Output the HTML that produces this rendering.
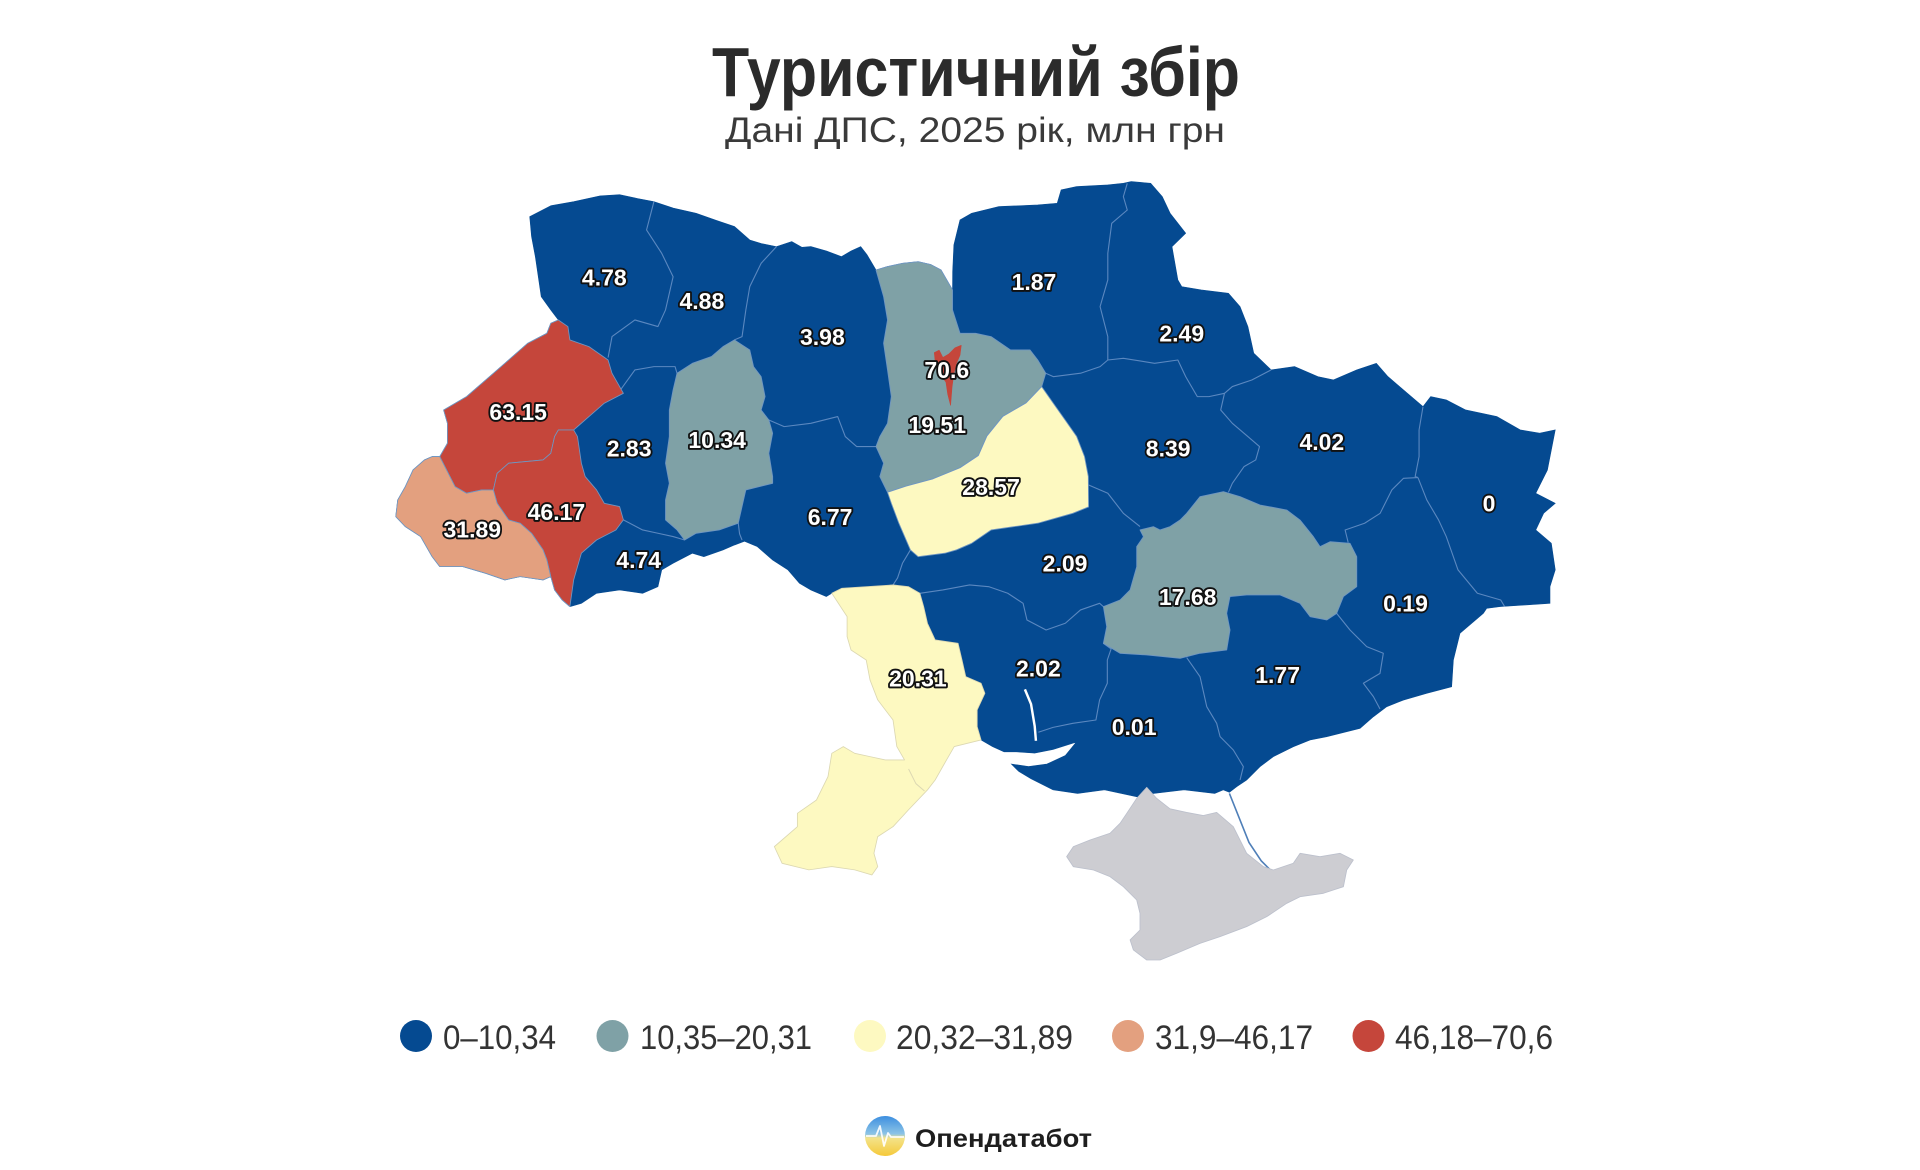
<!DOCTYPE html>
<html><head><meta charset="utf-8"><style>
html,body{margin:0;padding:0;background:#fff;}
svg{display:block;}
</style></head><body>
<svg xmlns="http://www.w3.org/2000/svg" width="1920" height="1170" viewBox="0 0 1920 1170">
<rect width="1920" height="1170" fill="#ffffff"/>
<text x="712" y="96" font-family="Liberation Sans, Arial, sans-serif" font-weight="bold" font-size="70" fill="#2b2b2b" textLength="528" lengthAdjust="spacingAndGlyphs">Туристичний збір</text>
<text x="725" y="142" font-family="Liberation Sans, Arial, sans-serif" font-size="35" fill="#3a3a3a" textLength="500" lengthAdjust="spacingAndGlyphs">Дані ДПС, 2025 рік, млн грн</text>

<g transform="scale(1.2245)">
<!-- blue base -->
<path fill="#054a91" stroke="#054a91" stroke-width="0.5" d="M432.6,176.9 L450,168 468.5,164.7 490,160 506,159 520,162 534,164.7 550,170 568.5,174.2 585,180 599.8,185 612.3,196 622,199 634.1,201.4 646.6,197.3 655,202 662.2,201.4 675,205 687.2,209.6 695,205 702.9,201.4 708,208 715.4,220.5 724.8,217.7 737.2,215 749.8,213.7 760,216 768.5,220.5 777.9,236.8 778,222 779,200 784,179.6 793.5,174.2 815.8,168.7 847.5,167.4 863.4,166 866.6,155.1 879.3,152.4 904.7,151 917.4,149.7 923.8,148.3 939.7,149.7 949.2,160.6 955.6,174.2 968.3,190.5 957.1,201.4 961.9,228.6 965.1,234.1 981,236.8 1003.2,239.5 1012.7,250.4 1019.1,266.7 1023.9,288.5 1038.1,302.1 1057.2,299.4 1076.3,307.6 1089,310.3 1108,302.1 1124,296.7 1133.5,307.6 1149.4,321.2 1162.1,332.1 1168.4,323.9 1181.1,326.6 1197,334.8 1222.4,340.2 1241.5,351.1 1257.4,353.8 1270.1,351.1 1266.9,367.4 1263.7,383.8 1254.2,402.8 1270.1,411 1260.6,419.2 1254.2,432.8 1266.9,443.7 1270.1,465.4 1265.8,479.1 1265.8,492.7 1225,495.4 1214.1,496.8 1211.4,500.9 1192.3,517.2 1186.9,539 1185.5,560.8 1165.1,566.2 1146.1,571.7 1132.5,577.1 1121.6,585.3 1110.7,594.8 1083.5,601.6 1069.9,604.3 1056.2,609.8 1039.9,617.9 1029,626.1 1018.1,637 1010,642.4 1004,647 999,645 992,648 967,645 942,648 930,651 902,645 880,648 860,645 842,636 832,630 826,624 840,626 855,624 870,617 879,606 860,612 845,615 830,614 820,614 810.6,609.7 801.2,604.3 798,593.4 798,579.8 804.3,566.2 801.2,558 788.7,552.6 785.6,539 782.4,525.4 763.7,522.6 757.4,509 754.3,495.4 751.2,484.5 741.8,479.1 729.3,477.7 687.5,480.4 679.3,484.5 674.8,487.2 662.2,481.8 652.9,476.3 643.5,465.4 631,457.3 618.5,446.4 608,442 600,445 590.4,449.1 574.8,454.6 565.4,451.8 549.7,460 540.4,465.4 537.3,479.1 524.8,484.5 506,481.8 487.2,484.5 474.8,492.7 465.4,495.4 459.1,490 452.9,481.8 449.8,470.9 443.5,473.6 424.8,470.9 412.3,473.6 396.6,468.2 377.9,462.7 359.1,462.7 352.9,454.6 343.5,438.2 331,430.1 323.2,421.9 324.8,408.3 331,397.4 337.3,383.8 346.6,375.6 352.9,372.9 359.1,372.9 365.4,362 365.4,345.7 362.3,334.8 381,323.9 399.8,307.6 412.3,296.7 431,280.3 446.6,272.2 449.8,264 456,261.3 449.8,253.1 442,242.2 437.2,209.6 434.1,193.2 Z"/>
<!-- Buh estuary -->
<polyline points="837,563 842,575 845,593 846,605" fill="none" stroke="#fff" stroke-width="2"/>
<!-- Arabat spit -->
<polyline points="1004,648 1012,668 1020,688 1030,703 1037,710" fill="none" stroke="#4f7fb8" stroke-width="1.3"/>

<!-- inner borders between blue regions -->
<g fill="none" stroke="#5b88c0" stroke-width="0.9" stroke-linejoin="round">
<polyline points="534,164.7 528,187.8 540.4,206.9 549.7,226 543.5,253.1 537.3,266.7 518.5,261.3 499.8,274.9 496.6,292"/>
<polyline points="507,318 518.5,302.1 534.1,299.4 551.3,299.4 552.9,304.8"/>
<polyline points="634.1,201.4 621.6,215 612.3,234.1 609.1,253.1 606,274.9 599.8,277.6"/>
<polyline points="627.9,343 640.4,348.4 662.2,345.7 684.1,340.2 690.3,356.5 699.6,364.7 715.4,364.7"/>
<polyline points="509.1,424.6 524.8,432.8 537.3,435.5 549.7,438.2 559.1,441"/>
<polyline points="602.9,427.3 604,436 606,441"/>
<polyline points="743.5,449.1 737,460 733,472 729.3,477.7"/>
<polyline points="888.8,396 904.7,402.8 917.4,419.2 931,430"/>
<polyline points="751.2,484.5 770,481.8 791.8,477.7 807.4,479.1 823,484.5 835.5,492.7 838.7,506.3 854.3,514.5 870,509 882.4,498.1 898,492.7 901.1,495.4"/>
<polyline points="901.1,525.4 907.4,530 904.3,539 904.3,558 898,571.6 895,588 876.2,590.7 860,594 848,598"/>
<polyline points="969.1,537 980,552.6 985.5,577.1 993.6,590.7 996.4,601.6 1007.2,612.5 1015.4,626.1 1012.7,637"/>
<polyline points="1091.6,500.9 1102.5,514.5 1116.1,528.1 1129.7,533.5 1127,549.9 1113.4,558 1121.6,568.9 1127,579"/>
<polyline points="1158,390 1165.2,408.3 1174.8,424.6 1181.1,438.2 1190.7,465.4 1206.5,484.5 1225.6,490 1228.8,495.4"/>
<polyline points="1162.1,332.1 1158.9,351.1 1158.9,372.9 1155.7,389.2 1158,390"/>
<polyline points="1158,390 1146.2,390.6 1136.7,400.1 1127.1,419.2 1114.4,427.3 1098.5,432.8 1101,443"/>
<polyline points="1000,321.2 996.9,334.8 1006.4,345.7 1019.1,356.5 1028.6,364.7 1025.5,375.6 1015.9,381.1 1006.4,394.7 1003.2,402"/>
<polyline points="1000,321.2 1006.4,315.7 1022.3,310.3 1038.1,302.1"/>
<polyline points="904.7,294 917.4,292.6 942.9,296.7 961.9,294 968.3,307.6 977.8,323.9 987.3,323.9 1000,321.2"/>
<polyline points="904.7,294 904.7,274.9 898.4,250.4 904.7,228.6 904.7,206.9 907.9,182.4 920.6,171.5 917.4,160.6 920.6,149.7"/>
<polyline points="854,304.8 860.2,307.6 882.5,304.8 898.4,299.4 904.7,294"/>
</g>

<g stroke="#6f96c2" stroke-width="0.7" stroke-linejoin="round">
<!-- Lviv -->
<polygon fill="#c5463b" points="449.8,264 456,261.3 463.8,266.7 465.4,277.6 481,283.1 496.6,294 499.8,304.8 506,315.7 509.1,321.2 493.5,329.3 481,340.2 471.6,348.4 468.5,351.1 456,351.1 452.9,356.5 449.8,370.2 443.5,375.6 415.4,378.3 406,386.5 402.9,400.1 393.5,400.1 381,402.8 371.6,397.4 359.1,372.9 365.4,362 365.4,345.7 362.3,334.8 381,323.9 399.8,307.6 412.3,296.7 431,280.3 446.6,272.2"/>
<!-- Ivano-Frankivsk -->
<polygon fill="#c5463b" points="456,351.1 468.5,351.1 471.6,356.5 474.8,378.3 477.9,389.2 487.2,400.1 493.5,411 506,413.7 509.1,424.6 503,432.8 487.2,441 474.8,451.8 468.5,473.6 465.4,495.4 459.1,490 452.9,481.8 449.8,470.9 446.6,457.3 443.5,449.1 434.1,435.5 424.8,427.3 415.4,424.6 406,411 402.9,400.1 406,386.5 415.4,378.3 443.5,375.6 449.8,370.2 452.9,356.5"/>
<!-- Zakarpattia -->
<polygon fill="#e3a07f" points="346.6,375.6 352.9,372.9 359.1,372.9 371.6,397.4 381,402.8 393.5,400.1 402.9,400.1 406,411 415.4,424.6 424.8,427.3 434.1,435.5 443.5,449.1 446.6,457.3 449.8,470.9 443.5,473.6 424.8,470.9 412.3,473.6 396.6,468.2 377.9,462.7 359.1,462.7 352.9,454.6 343.5,438.2 331,430.1 323.2,421.9 324.8,408.3 331,397.4 337.3,383.8"/>
<!-- Khmelnytskyi -->
<polygon fill="#7fa1a6" points="599.8,277.6 612.3,285.8 615.4,299.4 621.6,307.6 624.8,323.9 621.6,334.8 627.9,343 631,353.8 627.9,370.2 631,389.2 631,394.7 609.1,400.1 606,413.7 602.9,427.3 587.3,432.8 568.5,435.5 559.1,441 552.9,432.8 543.5,424.6 543.5,408.3 546.6,394.7 543.5,378.3 546.6,356.5 546.6,334.8 549.7,318.4 552.9,304.8 565.4,296.7 581,291.2 590.4,283.1"/>
<!-- Kyiv oblast -->
<polygon fill="#7fa1a6" points="715.4,220.5 724.8,217.7 737.2,215 749.8,213.7 760,216 768.5,220.5 777.9,236.8 777.9,253.1 784,272.2 796.7,272.2 809.4,274.9 825.3,285.8 841.2,285.8 847.5,294 854,304.8 850.7,315.7 838,329 819,340 806,356 799,372 784,382 762,391 740,397 724.8,402 718.5,389.2 721.6,378.3 715.4,364.7 718.5,356.5 724.8,345.7 727.9,323.9 724.8,302.1 721.6,280.3 724.8,261.3 721.6,242.2"/>
<!-- Cherkasy -->
<polygon fill="#fdf9c1" points="850.7,315.7 860.2,329.3 869.8,342.9 879.3,356.5 885.7,372.9 888.8,389.2 889,414 876.1,419.2 847.5,427.3 809.4,432.8 793.5,443.7 781,449.1 771.6,451.8 749.8,454.6 743.5,449.1 734.1,427.4 727.9,411 724.8,402 740,397 762,391 784,382 799,372 806,356 819,340 838,329"/>
<!-- Dnipro -->
<polygon fill="#7fa1a6" points="969.1,419.2 980,405.6 999.1,401.5 1012.7,405.6 1029,412.4 1050.8,416.5 1061.7,424.7 1072.6,438.3 1078,446.4 1086.2,442.4 1102.5,443.7 1108,454.6 1108,479.1 1097.1,487.2 1091.6,500.9 1083.5,506.3 1069.9,503.6 1061.7,492.7 1045.4,485.9 1018.1,485.9 1004.5,487.2 1001.8,500.9 1004.5,514.5 1001.8,530.8 980,533.5 963.7,537.6 936.5,534.9 914.7,533.5 901.1,525.4 903.8,511.8 901.1,495.4 914.7,490 922.9,481.8 928.3,462.8 928.3,446.4 933.8,438.3 931,432.8 941.9,430.1 947.4,432.8 955.5,430.1 963.7,424.7"/>
<!-- Kyiv city -->
<polygon fill="#c5463b" stroke="#c5463b" stroke-width="0.5" points="763,288 767,286 770,292 775,289 780,284 785,282 784,290 781,297 779,305 777.5,316 776.3,331 774,322 772.5,312 768,306 764,298"/>
</g>
<!-- Odesa -->
<polygon fill="#fdf9c1" stroke="#dcd8b2" stroke-width="0.7" stroke-linejoin="round" points="679.3,484.5 691.8,503.6 691.8,519.9 695,530.8 707.4,539 710.5,555.3 716.8,571.6 729.3,588 732.4,609.7 738.7,620.6 723,620.6 710.5,617.9 698,615.2 688.7,609.7 679.3,615.2 676.2,634.2 666.8,653.3 651.2,664.2 651.2,675.1 632.4,691.4 638.7,705 660.6,710.4 679.3,707.7 698,710.4 712.1,714.5 716.8,707.7 713.7,696.8 716.8,683.2 729.3,675.1 741.8,661.5 757.4,645.1 763.7,637 773,620.6 779.3,609.7 801.2,604.3 798,593.4 798,579.8 804.3,566.2 801.2,558 788.7,552.6 785.6,539 782.4,525.4 763.7,522.6 757.4,509 754.3,495.4 751.2,484.5 741.8,479.1 729.3,477.7 687.5,480.4"/>
<polyline points="742,628 748,640 755,646" fill="none" stroke="#dcd8b2" stroke-width="0.8"/>
<!-- Crimea -->
<polygon fill="#cdcdd2" stroke="#bcc0cc" stroke-width="0.7" stroke-linejoin="round" points="936.5,643 944.6,652 955.5,660.5 969.1,663.5 982.7,666 993.6,663.5 1007.2,675.1 1018.1,696.9 1031.8,707.8 1039.9,710.5 1056.2,705 1061.7,696.9 1078,699.6 1094.4,696.9 1105.2,702.3 1099.8,710.5 1097.1,724.1 1080.8,729.5 1061.7,732.3 1050.8,737.7 1034.5,748.6 1018.1,756.7 996.4,764.9 980,770.4 961,778.5 947.4,784 936.5,784 925.6,775.8 922.9,767.6 931,759.5 931,745.9 928.3,735 917.4,724.1 906.5,715.9 893,710.5 876.6,707.8 871.1,699.6 876.6,691.4 890.2,686 906.5,680.5 914.7,672.4 920.2,664.2 928.3,652"/>

<!-- labels -->
<g font-family="Liberation Sans, Arial, sans-serif" font-weight="bold" font-size="18.8" text-anchor="middle" fill="#ffffff" stroke="#111111" stroke-width="3" stroke-linejoin="round" paint-order="stroke">
<text x="493.5" y="233.1">4.78</text>
<text x="573.2" y="252.2">4.88</text>
<text x="671.6" y="281.6">3.98</text>
<text x="773.2" y="308.8">70.6</text>
<text x="423.2" y="342.8">63.15</text>
<text x="765.4" y="353.7">19.51</text>
<text x="513.8" y="372.8">2.83</text>
<text x="585.7" y="366">10.34</text>
<text x="454.4" y="424.5">46.17</text>
<text x="385.7" y="438.9">31.89</text>
<text x="677.9" y="428.6">6.77</text>
<text x="521.6" y="464">4.74</text>
<text x="844.4" y="236.7">1.87</text>
<text x="965.1" y="278.9">2.49</text>
<text x="954" y="372.8">8.39</text>
<text x="1079.5" y="367.3">4.02</text>
<text x="809.4" y="404.1">28.57</text>
<text x="1216" y="417.7">0</text>
<text x="869.8" y="466.7">2.09</text>
<text x="969.9" y="493.9">17.68</text>
<text x="1147.8" y="499.4">0.19</text>
<text x="749.6" y="560.6">20.31</text>
<text x="848" y="552.5">2.02</text>
<text x="926.2" y="600.1">0.01</text>
<text x="1043.4" y="557.9">1.77</text>
</g>
</g>

<!-- legend -->
<g font-family="Liberation Sans, Arial, sans-serif" font-size="34" fill="#333333">
<circle cx="416" cy="1036" r="16" fill="#054a91"/>
<text x="443" y="1049" textLength="113" lengthAdjust="spacingAndGlyphs">0–10,34</text>
<circle cx="612.5" cy="1036" r="16" fill="#7fa1a6"/>
<text x="640" y="1049" textLength="172" lengthAdjust="spacingAndGlyphs">10,35–20,31</text>
<circle cx="870" cy="1036" r="16" fill="#fdf9c1"/>
<text x="896" y="1049" textLength="177" lengthAdjust="spacingAndGlyphs">20,32–31,89</text>
<circle cx="1128" cy="1036" r="16" fill="#e3a07f"/>
<text x="1155" y="1049" textLength="158" lengthAdjust="spacingAndGlyphs">31,9–46,17</text>
<circle cx="1368.5" cy="1036" r="16" fill="#c5463b"/>
<text x="1395" y="1049" textLength="158" lengthAdjust="spacingAndGlyphs">46,18–70,6</text>
</g>

<!-- logo -->
<defs>
<linearGradient id="lg" x1="0" y1="0" x2="0" y2="1">
<stop offset="0" stop-color="#3d8fe0"/>
<stop offset="0.45" stop-color="#8cc4e6"/>
<stop offset="0.55" stop-color="#f3e38a"/>
<stop offset="1" stop-color="#f5c93a"/>
</linearGradient>
</defs>
<circle cx="885" cy="1136" r="20" fill="url(#lg)"/>
<polyline points="866,1136 876,1136 880,1126 884,1146 888,1133 891,1137 904,1137" fill="none" stroke="#ffffff" stroke-width="1.8" stroke-linejoin="round" opacity="0.9"/>
<text x="915" y="1147" font-family="Liberation Sans, Arial, sans-serif" font-weight="bold" font-size="25" fill="#1e1e1e" textLength="177" lengthAdjust="spacingAndGlyphs">Опендатабот</text>
</svg>
</body></html>
